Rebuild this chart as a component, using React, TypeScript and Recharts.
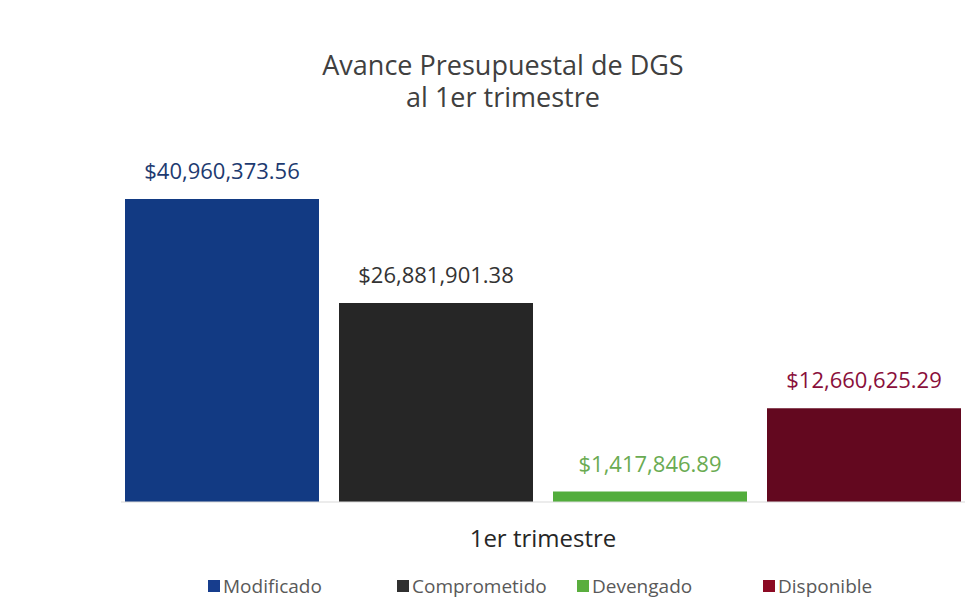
import { BarChart, Bar, XAxis, YAxis, LabelList, Legend } from 'recharts';

// valores del 1er trimestre
const periodos = ['1er trimestre'];
const modificado = [40960373.56];
const comprometido = [26881901.38];
const devengado = [1417846.89];
const disponible = [12660625.29];

const nombres = ['Modificado', 'Comprometido', 'Devengado', 'Disponible'];
const claves = ['modificado', 'comprometido', 'devengado', 'disponible'];

const colorBarra = ['#123a83', '#262626', '#52ad3c', '#63081f'];
const colorEtiqueta = ['#1d3a70', '#333333', '#6aab52', '#8a0f3b'];
const colorLeyenda = ['#173d8d', '#303030', '#5aae3e', '#8c0a24'];

const data = periodos.map((p, i) => ({
  periodo: p,
  modificado: modificado[i],
  comprometido: comprometido[i],
  devengado: devengado[i],
  disponible: disponible[i],
}));

const fmt = (v: any) =>
  '$' +
  Number(v).toLocaleString('en-US', { minimumFractionDigits: 2, maximumFractionDigits: 2 });

const FONT = '"Open Sans", sans-serif';

function Leyenda() {
  return (
    <div style={{ position: 'relative', height: 30, fontFamily: FONT }}>
      {nombres.map((n, i) => (
        <div
          key={n}
          style={{
            position: 'absolute',
            left: [208, 397, 577, 763][i],
            top: 4,
            display: 'flex',
            alignItems: 'center',
            fontSize: 19,
            color: '#595959',
            whiteSpace: 'nowrap',
          }}
        >
          <span style={{ display: 'inline-block', width: 12, height: 12, background: colorLeyenda[i], marginRight: 3 }} />
          {n}
        </div>
      ))}
    </div>
  );
}

const tituloStyle = {
  position: 'absolute' as const,
  left: 253,
  width: 500,
  textAlign: 'center' as const,
  fontSize: 27,
  lineHeight: '28px',
  color: '#404040',
  zIndex: 2,
};

export default function App() {
  return (
    <div style={{ position: 'absolute', left: 0, top: 0, width: 965, height: 615, background: '#fff', fontFamily: FONT }}>
      <div style={{ ...tituloStyle, top: 51 }}>Avance Presupuestal de DGS</div>
      <div style={{ ...tituloStyle, top: 83 }}>al 1er trimestre</div>
      <BarChart
        width={965}
        height={615}
        data={data}
        margin={{ top: 132, right: 0, left: 121, bottom: 35 }}
        barGap={20}
        barSize={194}
      >
        <XAxis
          dataKey="periodo"
          height={48}
          tickLine={false}
          axisLine={{ stroke: '#d9d9d9' }}
          tick={{ fill: '#262626', fontSize: 24, fontFamily: FONT, dy: 20 }}
        />
        <YAxis hide domain={[0, 50000000]} />
        <Legend verticalAlign="bottom" wrapperStyle={{ bottom: 16, left: 0, width: 965 }} content={() => <Leyenda />} />
        {claves.map((k, i) => (
          <Bar key={k} dataKey={k} name={nombres[i]} fill={colorBarra[i]} isAnimationActive={false}>
            <LabelList
              dataKey={k}
              position="top"
              offset={20}
              formatter={fmt}
              style={{ fill: colorEtiqueta[i], fontSize: 22, fontFamily: FONT }}
            />
          </Bar>
        ))}
      </BarChart>
    </div>
  );
}
